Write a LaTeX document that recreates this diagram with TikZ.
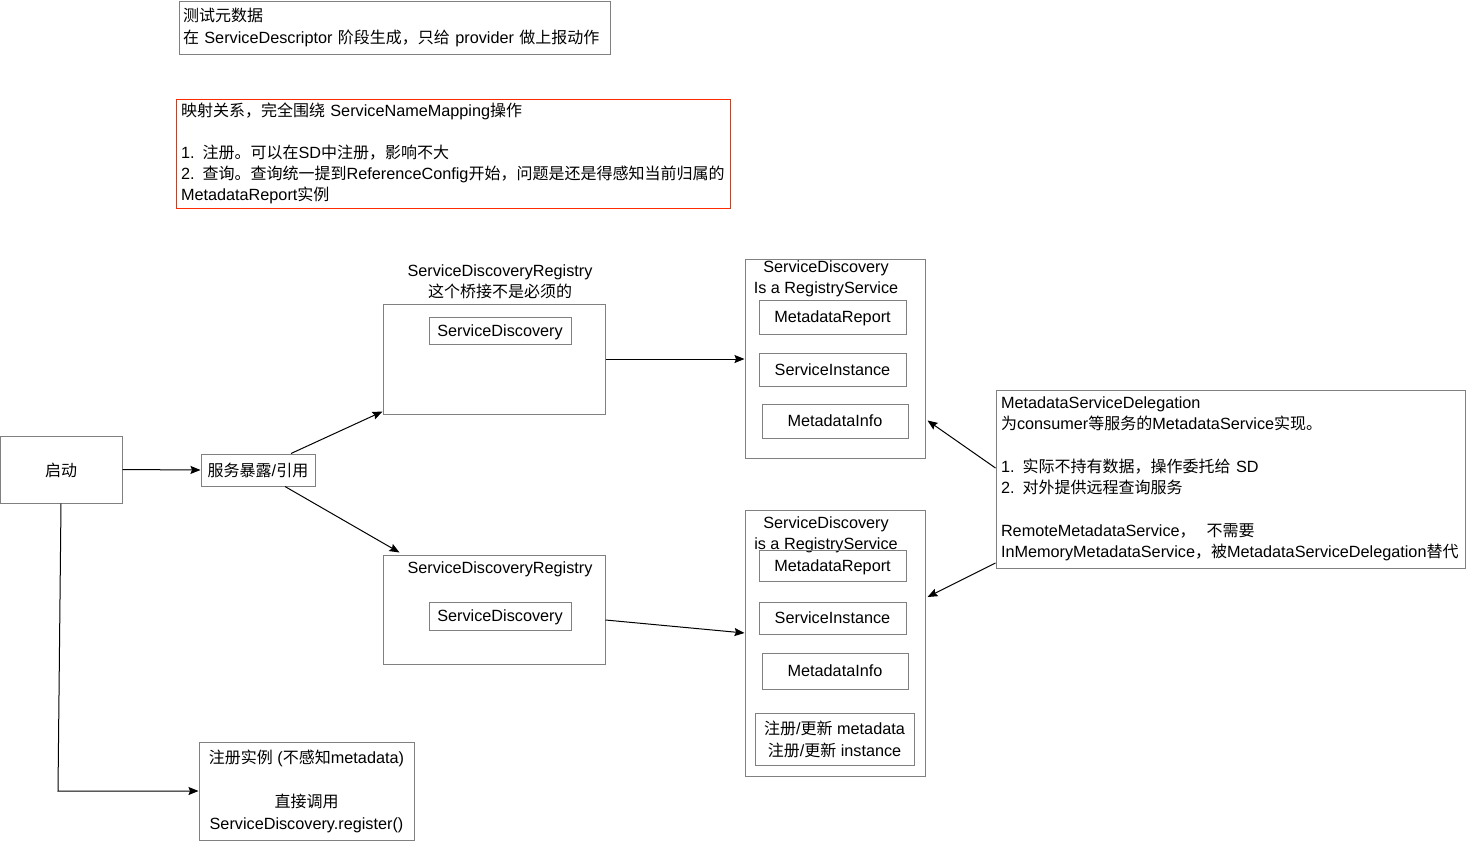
\documentclass[tikz,border=0pt]{standalone}
\usepackage{fontspec}
\setmainfont{Liberation Sans}[Scale=1.015]
\newfontfamily\cjk{Noto Sans CJK SC}
\newcommand\zh[1]{{\cjk #1}}
\usetikzlibrary{arrows.meta,calc}
\definecolor{boxgray}{HTML}{808080}
\definecolor{notered}{HTML}{FF2A00}
\begin{document}
\begin{tikzpicture}[x=1pt,y=-1pt,
  box/.style={draw=boxgray, line width=1pt, inner sep=0pt, font=\fontsize{16}{21.5}\selectfont, align=center},
  sbox/.style={box, text depth=0pt},
  notebox/.style={box, align=left, inner xsep=5pt},
  plain/.style={inner sep=0pt, font=\fontsize{16}{20.5}\selectfont, align=center},
  arr/.style={draw=black, line width=1pt, -{Stealth[length=10pt,width=8pt,inset=1.5pt]}}]
\useasboundingbox (0,0) rectangle (1466,841);

% notes at top
\node[notebox, inner xsep=4pt, text width=423pt, minimum height=53pt] (meta) at (394.5,27.5)
  {\zh{测试元数据}\\ \zh{在} ServiceDescriptor \zh{阶段生成，只给} provider \zh{做上报动作}};
\node[notebox, draw=notered, text width=544pt, minimum height=109pt, font=\fontsize{16}{21}\selectfont] (map) at (453,153.5)
  {\zh{映射关系，完全围绕} ServiceNameMapping\zh{操作}\\ ~\\ 1. \zh{注册。可以在}SD\zh{中注册，影响不大}\\ 2. \zh{查询。查询统一提到}ReferenceConfig\zh{开始，问题是还是得感知当前归属的}\\ MetadataReport\zh{实例}};

% start
\node[sbox, minimum width=122pt, minimum height=67pt] (qd) at (61,469.5) {\zh{启动}};
\node[sbox, minimum width=114pt, minimum height=32pt] (fw) at (258,470) {\zh{服务暴露}/\zh{引用}};

% registry boxes
\node[box, minimum width=222pt, minimum height=110pt] (sdr1) at (494,359) {};
\node[plain] (sdr1t) at (500,282) {ServiceDiscoveryRegistry\\ \zh{这个桥接不是必须的}};
\node[sbox, minimum width=142pt, minimum height=27pt] (sdi1) at (500,330.5) {ServiceDiscovery};

\node[box, minimum width=222pt, minimum height=109pt] (sdr2) at (494,609.5) {};
\node[plain, text depth=0pt] (sdr2t) at (500,568) {ServiceDiscoveryRegistry};
\node[sbox, minimum width=142pt, minimum height=28pt] (sdi2) at (500,616) {ServiceDiscovery};

% service discovery boxes
\node[box, minimum width=180pt, minimum height=199pt] (sd1) at (835,358.5) {};
\node[plain] (sd1t) at (826,279) {ServiceDiscovery\\ Is a RegistryService};
\node[sbox, minimum width=147pt, minimum height=34pt] (mr1) at (832.5,317) {MetadataReport};
\node[sbox, minimum width=147pt, minimum height=33pt] (si1) at (832.5,369.5) {ServiceInstance};
\node[sbox, minimum width=146pt, minimum height=34pt] (mi1) at (835,421) {MetadataInfo};

\node[box, minimum width=180pt, minimum height=266pt] (sd2) at (835,643) {};
\node[plain] (sd2t) at (826,535) {ServiceDiscovery\\ is a RegistryService};
\node[sbox, minimum width=147pt, minimum height=31pt] (mr2) at (832.5,565.5) {MetadataReport};
\node[sbox, minimum width=147pt, minimum height=32pt] (si2) at (832.5,618) {ServiceInstance};
\node[sbox, minimum width=146pt, minimum height=36pt] (mi2) at (835,671) {MetadataInfo};
\node[box, minimum width=159pt, minimum height=52pt, font=\fontsize{16}{22}\selectfont] (upd) at (834.5,739)
  {\zh{注册}/\zh{更新} metadata\\ \zh{注册}/\zh{更新} instance};

% delegation note
\node[notebox, text width=459pt, minimum height=178pt, font=\fontsize{16}{21.3}\selectfont] (msd) at (1230.5,479)
  {MetadataServiceDelegation\\ \zh{为}consumer\zh{等服务的}MetadataService\zh{实现。}\\ ~\\ 1. \zh{实际不持有数据，操作委托给} SD\\ 2. \zh{对外提供远程查询服务}\\ ~\\ RemoteMetadataService\zh{，}\ \ \zh{不需要}\\ InMemoryMetadataService\zh{，被}MetadataServiceDelegation\zh{替代}};

% register instance
\node[box, minimum width=215pt, minimum height=98pt, font=\fontsize{16}{22}\selectfont] (reg) at (306.5,791)
  {\zh{注册实例} (\zh{不感知}metadata)\\ ~\\ \zh{直接调用}\\ ServiceDiscovery.register()};

% connectors
\draw[arr] (qd.east) -- (fw.west);
\draw[arr] ([xshift=33pt]fw.north) -- ([yshift=3pt]sdr1.south west);
\draw[arr] ([xshift=27pt]fw.south) -- ([xshift=17pt,yshift=2pt]sdr2.north west);
\draw[arr] (sdr1.east) -- (sdr1.east -| sd1.west);
\draw[arr] ([yshift=-10.5pt]sdr2.east) -- ([yshift=10pt]sd2.west);
\draw[arr] ([yshift=11pt]msd.west) -- ([xshift=2pt,yshift=-62pt]sd1.east);
\draw[arr] ([yshift=-84pt]msd.west) -- ([xshift=2pt,yshift=46pt]sd2.east);
\draw[arr] (qd.south) -- ([xshift=-3pt]qd.south |- reg.west) -- (reg.west);
\end{tikzpicture}
\end{document}
